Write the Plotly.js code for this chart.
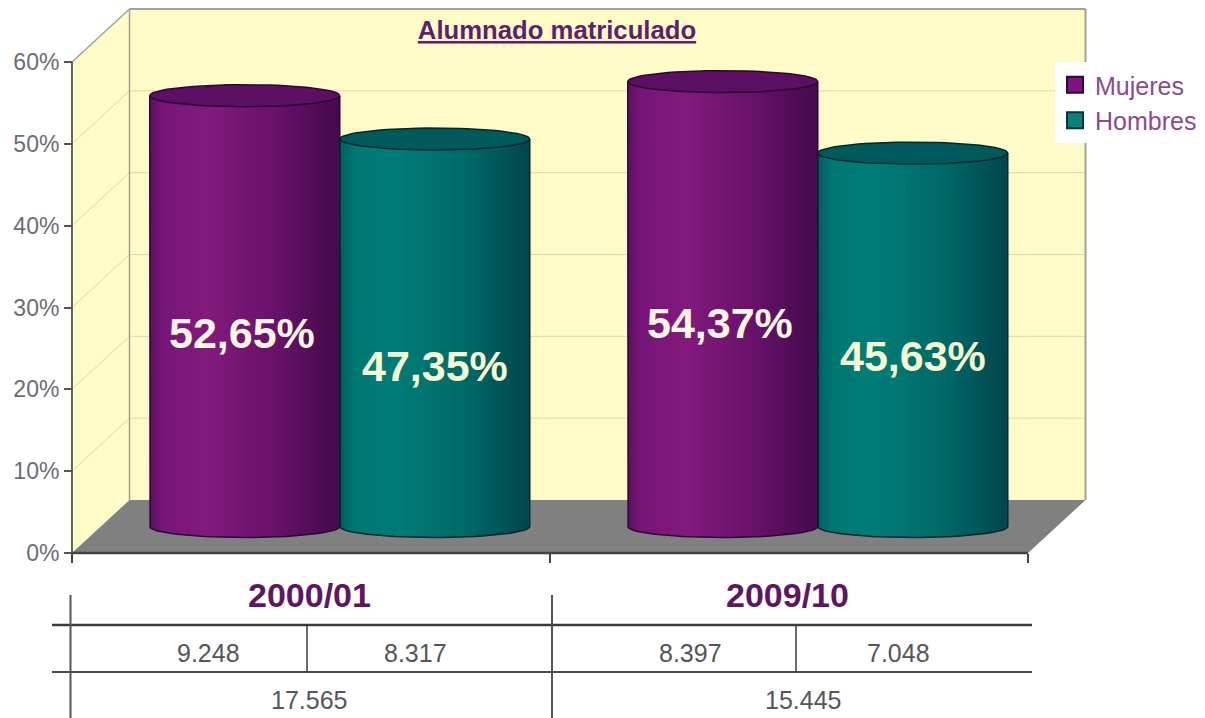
<!DOCTYPE html>
<html>
<head>
<meta charset="utf-8">
<script src="https://cdn.plot.ly/plotly-3.0.1.min.js"></script>
<style>html,body{margin:0;padding:0;background:#fff}#c{width:1205px;height:718px}</style>
</head>
<body>
<div id="c"></div>
<script>
// ---- data ----
var chartTitle = 'Alumnado matriculado';
var years = ['2000/01', '2009/10'];
var seriesNames = ['Mujeres', 'Hombres'];
var mujeres = [52.65, 54.37];
var hombres = [47.35, 45.63];
var pctMujeres = ['52,65%', '54,37%'];
var pctHombres = ['47,35%', '45,63%'];
var countsMujeres = ['9.248', '8.397'];
var countsHombres = ['8.317', '7.048'];
var totals = ['17.565', '15.445'];
var yTicks = [0, 10, 20, 30, 40, 50, 60];
var yTickLabels = ['0%', '10%', '20%', '30%', '40%', '50%', '60%'];

// ---- geometry of the pseudo-3D frame (page pixels) ----
var W = 1205, H = 718;
var x0px = 72, catPx = 478, y0px = 553, pctPx = 8.183;
var depthXpx = 57.5, depthYpx = 53;
var radiusPx = 95, ellipsePx = 11;
var xU = function (px) { return px / catPx; };
var yU = function (px) { return px / pctPx; };
var dx = xU(depthXpx), dy = yU(depthYpx);
var xRange = [-x0px / catPx, (W - x0px) / catPx];
var yRange = [-(H - y0px) / pctPx, y0px / pctPx];
var px = function (p) { return p / W; };
var py = function (p) { return 1 - p / H; };

function mix(a, b, t) {
  var r = a.map(function (v, i) { return Math.round(v + (b[i] - v) * t); });
  return 'rgb(' + r.join(',') + ')';
}
function shade(stops, t) {
  for (var i = 1; i < stops.length; i++) {
    if (t <= stops[i][0]) {
      return mix(stops[i - 1][1], stops[i][1], (t - stops[i - 1][0]) / (stops[i][0] - stops[i - 1][0]));
    }
  }
  return mix(stops[stops.length - 1][1], stops[stops.length - 1][1], 0);
}
var styles = [
  { stops: [[0, [92, 16, 98]], [0.07, [118, 22, 120]], [0.3, [130, 26, 124]], [0.65, [104, 18, 106]], [0.9, [78, 12, 84]], [1, [68, 10, 76]]],
    top: '#5c1064', edge: '#2c0634' },
  { stops: [[0, [0, 94, 94]], [0.08, [0, 120, 114]], [0.3, [0, 124, 118]], [0.65, [0, 106, 104]], [0.9, [0, 80, 84]], [1, [0, 70, 74]]],
    top: '#005a5c', edge: '#00282c' }
];

var traces = [];
var annotations = [];
var sliceCount = 95;
var rU = xU(radiusPx), eU = yU(ellipsePx);
// printed percentages sit by hand in the original: [category][series], px up from the bar middle
var labelShift = [[5, -7], [8, 10]];
var labelNudgeX = [-3, 0];

function cylinder(cat, ser, value, text, shiftPx) {
  var cx = cat + 0.5 + (ser === 0 ? -rU : rU) + dx / 2;
  var lift = dy / 2;
  var st = styles[ser];
  var xs = [], ys = [], bases = [], cols = [];
  for (var i = 0; i < sliceCount; i++) {
    var t = (i + 0.5) / sliceCount;
    var u = 2 * t - 1;
    var sag = eU * Math.sqrt(1 - u * u);
    xs.push(cx + u * rU);
    bases.push(lift - sag);
    ys.push(value + sag);
    cols.push(shade(st.stops, t));
  }
  traces.push({
    type: 'bar', x: xs, y: ys, base: bases, width: 2 * rU / sliceCount * 1.15,
    marker: { color: cols, line: { width: 0 } }, showlegend: false, hoverinfo: 'skip'
  });
  var ex = [], ey = [];
  for (var k = 0; k <= 72; k++) {
    var a = 2 * Math.PI * k / 72;
    ex.push(cx + rU * Math.cos(a));
    ey.push(value + lift + eU * Math.sin(a));
  }
  traces.push({
    type: 'scatter', mode: 'lines', x: ex, y: ey, fill: 'toself', fillcolor: st.top,
    line: { color: st.edge, width: 1.5 }, showlegend: false, hoverinfo: 'skip', cliponaxis: false
  });
  var ox = [cx - rU, cx - rU], oy = [value + lift, lift];
  for (var m = 1; m <= 36; m++) {
    var b = Math.PI * m / 36;
    ox.push(cx - rU * Math.cos(b));
    oy.push(lift - eU * Math.sin(b));
  }
  ox.push(cx + rU); oy.push(value + lift);
  traces.push({
    type: 'scatter', mode: 'lines', x: ox, y: oy,
    line: { color: st.edge, width: 1.5 }, showlegend: false, hoverinfo: 'skip'
  });
  annotations.push({
    xref: 'x', yref: 'y', x: cx, y: value / 2, text: '<b>' + text + '</b>', showarrow: false,
    yshift: shiftPx, xshift: labelNudgeX[ser], font: { family: 'Liberation Sans', size: 43, color: ser === 0 ? '#fdf6e2' : '#f6fbd2' }
  });
}
years.forEach(function (y, i) {
  cylinder(i, 0, mujeres[i], pctMujeres[i], labelShift[i][0]);
  cylinder(i, 1, hombres[i], pctHombres[i], labelShift[i][1]);
});

// legend keys
seriesNames.forEach(function (n, i) {
  traces.push({
    type: 'scatter', mode: 'markers', x: [null], y: [null], name: n,
    marker: { symbol: 'square', size: 16, color: i === 0 ? '#7d1480' : '#0d7f7c', line: { color: i === 0 ? '#2c0634' : '#00383c', width: 2 } },
    hoverinfo: 'skip'
  });
});

// frame
var wall = '#fffbc9', grid = '#dcd9a6', frame = '#a3a296';
function poly(pts, fill) {
  return {
    type: 'path', xref: 'x', yref: 'y', layer: 'below', fillcolor: fill, line: { width: 0 },
    path: 'M' + pts.map(function (p) { return p[0] + ',' + p[1]; }).join(' L') + ' Z'
  };
}
function seg(a, b, color, width) {
  return { type: 'line', xref: 'x', yref: 'y', layer: 'below', x0: a[0], y0: a[1], x1: b[0], y1: b[1], line: { color: color, width: width } };
}
var topV = 60;
var shapes = [
  poly([[dx, dy], [2 + dx, dy], [2 + dx, topV + dy], [dx, topV + dy]], wall),
  poly([[0, 0], [dx, dy], [dx, topV + dy], [0, topV]], wall)
];
yTicks.forEach(function (v) {
  if (v > 0 && v < topV) {
    shapes.push(seg([0, v], [dx, v + dy], grid, 1));
    shapes.push(seg([dx, v + dy], [2 + dx, v + dy], grid, 1));
  }
});
shapes.push(seg([0, topV], [dx, topV + dy], frame, 1.5));
shapes.push(seg([dx, topV + dy], [2 + dx, topV + dy], frame, 2));
shapes.push(seg([dx, dy], [dx, topV + dy], frame, 1.5));
shapes.push(seg([2 + dx, dy], [2 + dx, topV + dy], frame, 2));
shapes.push(poly([[0, 0], [2, 0], [2 + dx, dy], [dx, dy]], '#808080'));
shapes.push(seg([0, 0], [0, topV], '#666660', 2));
shapes.push(seg([0, 0], [2, 0], '#444444', 2.5));

// table under the chart
function tline(x0, y0, x1, y1, c, w) {
  shapes.push({ type: 'line', xref: 'paper', yref: 'paper', x0: px(x0), y0: py(y0), x1: px(x1), y1: py(y1), line: { color: c, width: w } });
}
tline(52, 625, 1032, 625, '#3a3a3a', 2.5);
tline(52, 672, 1032, 672, '#4a4a4a', 2);
tline(70.5, 595, 70.5, 718, '#555555', 2);
tline(552, 595, 552, 718, '#555555', 2);
tline(307, 625, 307, 672, '#3a3a3a', 1.5);
tline(796, 625, 796, 672, '#3a3a3a', 1.5);

function ptext(x, y, t, size, color) {
  annotations.push({ xref: 'paper', yref: 'paper', x: px(x), y: py(y), xanchor: 'center', yanchor: 'middle', text: t, showarrow: false, font: { family: 'Liberation Sans', size: size, color: color } });
}
var yearX = [309, 787], maleX = [415, 898], femaleX = [208, 690], totalX = [309, 803];
years.forEach(function (y, i) {
  ptext(yearX[i], 595, '<b>' + y + '</b>', 34, '#5f1660');
  ptext(femaleX[i], 653, countsMujeres[i], 25, '#555555');
  ptext(maleX[i], 653, countsHombres[i], 25, '#555555');
  ptext(totalX[i], 700, totals[i], 25, '#555560');
});

var layout = {
  width: W, height: H, margin: { l: 0, r: 0, t: 0, b: 0, pad: 0 },
  paper_bgcolor: '#ffffff', plot_bgcolor: '#ffffff', barmode: 'overlay', bargap: 0,
  title: {
    text: '<b><u>' + chartTitle + '</u></b>', x: px(557), xanchor: 'center', y: py(30), yanchor: 'middle',
    font: { family: 'Liberation Sans', size: 25.7, color: '#5f1f6c' }
  },
  xaxis: {
    range: xRange, anchor: 'free', position: (H - y0px) / H, tickmode: 'array', tickvals: [0, 1, 2],
    showticklabels: false, ticks: 'outside', ticklen: 9, tickwidth: 2, tickcolor: '#444444',
    showgrid: false, zeroline: false, showline: false, fixedrange: true
  },
  yaxis: {
    range: yRange, anchor: 'free', position: x0px / W, side: 'left', tickmode: 'array',
    tickvals: yTicks, ticktext: yTickLabels, ticks: 'outside', ticklen: 8, tickwidth: 2, tickcolor: '#555555',
    tickfont: { family: 'Liberation Sans', size: 23, color: '#6c6c74' },
    showgrid: false, zeroline: false, showline: false, fixedrange: true
  },
  legend: {
    x: px(1055), y: py(62), xanchor: 'left', yanchor: 'top', bgcolor: '#ffffff', borderwidth: 0,
    font: { family: 'Liberation Sans', size: 25, color: '#8a4a90' }, itemsizing: 'trace', tracegroupgap: 0
  },
  showlegend: true, shapes: shapes, annotations: annotations, hovermode: false
};
Plotly.newPlot('c', traces, layout, { displayModeBar: false, staticPlot: true });
</script>
</body>
</html>
